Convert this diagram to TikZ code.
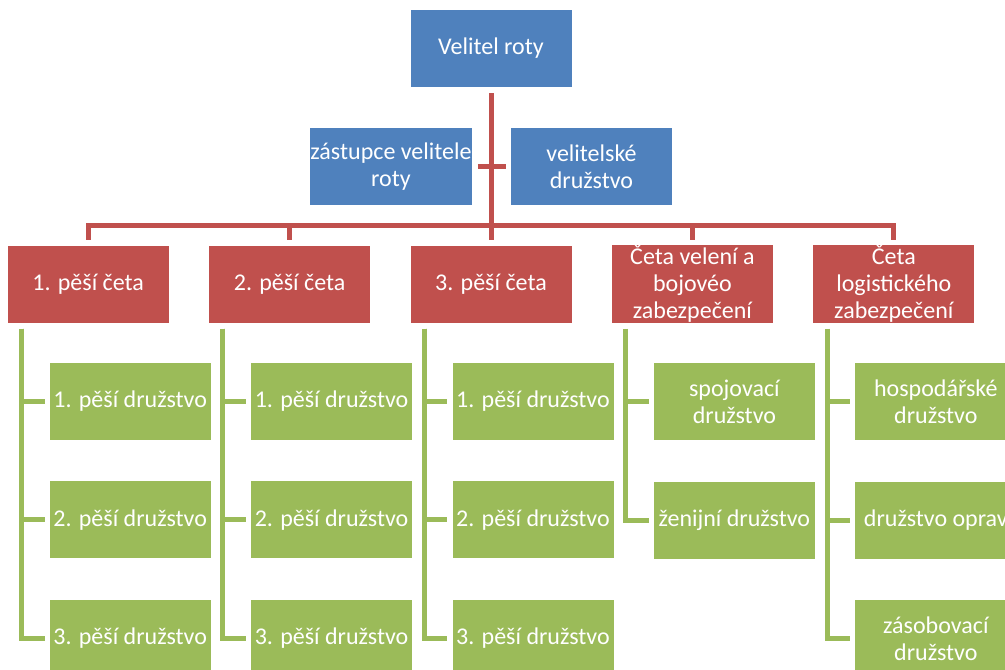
\documentclass[tikz,border=0pt]{standalone}
\usepackage{fontspec}
\setmainfont{Carlito}
\usepackage{tikz}
\usetikzlibrary{positioning}

\definecolor{cmdblue}{HTML}{4F81BD}
\definecolor{platred}{HTML}{C0504D}
\definecolor{squadgreen}{HTML}{9BBB59}

\begin{document}
\begin{tikzpicture}[
    x=1pt, y=1pt,
    node distance=40pt,
    unit/.style={
        rectangle,
        minimum width=161pt, minimum height=77pt,
        inner sep=0pt,
        text=white,
        font=\fontsize{24}{27}\selectfont,
        align=center
    },
    cmd/.style={unit, fill=cmdblue},
    platoon/.style={unit, fill=platred},
    squad/.style={unit, fill=squadgreen},
    redline/.style={line width=5pt, draw=platred},
    greenline/.style={line width=5pt, draw=squadgreen}
]
\clip (0,0) rectangle (1005,-670);

\node[cmd] (vr) at (491,-48.5) {Velitel roty};
\node[cmd] (zv) at (391,-166.5) {zástupce velitele\\roty};
\node[cmd] (vd) at (591.5,-166.5) {velitelské\\družstvo};

\node[platoon] (c3) at (491,-284) {3. pěší četa};
\node[platoon, left=of c3] (c2) {2. pěší četa};
\node[platoon, left=of c2] (c1) {1. pěší četa};
\node[platoon, right=of c3] (c4) {Četa velení a\\bojovéo\\zabezpečení};
\node[platoon, right=of c4] (c5) {Četa\\logistického\\zabezpečení};

% squads of the rifle platoons
\foreach \i in {1,2,3} {
    \node[squad, below=of c\i, xshift=42pt] (d\i1) {1. pěší družstvo};
    \node[squad, below=41pt of d\i1] (d\i2) {2. pěší družstvo};
    \node[squad, below=41pt of d\i2] (d\i3) {3. pěší družstvo};
}

\node[squad, below=of c4, xshift=42pt] (d41) {spojovací\\družstvo};
\node[squad, below=41pt of d41] (d42) {ženijní družstvo};

\node[squad, below=of c5, xshift=42pt] (d51) {hospodářské\\družstvo};
\node[squad, below=41pt of d51] (d52) {družstvo oprav};
\node[squad, below=41pt of d52] (d53) {zásobovací\\družstvo};

% Connecting lines
\draw[redline] ([yshift=-6pt]vr.south) -- ([yshift=5pt]c3.north);
\draw[redline] ([xshift=6pt]zv.east) -- ([xshift=-5pt]vd.west);
\coordinate (bus) at ([yshift=20pt]c3.north);
\foreach \i in {1,2,4,5}
    \draw[redline] (bus) -| ([yshift=5pt]c\i.north);

\foreach \c/\r in {1/1,1/2,1/3,2/1,2/2,2/3,3/1,3/2,3/3,4/1,4/2,5/1,5/2,5/3}
    \draw[greenline] ([xshift=14pt,yshift=-6pt]c\c.south west) |- ([xshift=-5pt]d\c\r.west);

\end{tikzpicture}
\end{document}
